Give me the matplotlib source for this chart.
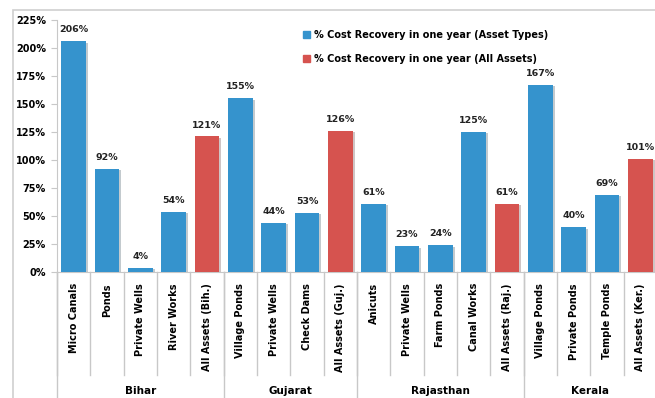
import matplotlib
matplotlib.use('Agg')
import matplotlib.pyplot as plt
import matplotlib.patheffects as pe
from matplotlib.patches import Patch, Rectangle

# data
states = ['Bihar', 'Gujarat', 'Rajasthan', 'Kerala']
categories = [
    ['Micro Canals', 'Ponds', 'Private Wells', 'River Works', 'All Assets (Bih.)'],
    ['Village Ponds', 'Private Wells', 'Check Dams', 'All Assets (Guj.)'],
    ['Anicuts', 'Private Wells', 'Farm Ponds', 'Canal Works', 'All Assets (Raj.)'],
    ['Village Ponds', 'Private Ponds', 'Temple Ponds', 'All Assets (Ker.)'],
]
values = [
    [206, 92, 4, 54, 121],
    [155, 44, 53, 126],
    [61, 23, 24, 125, 61],
    [167, 40, 69, 101],
]
legend_labels = ['% Cost Recovery in one year (Asset Types)',
                 '% Cost Recovery in one year (All Assets)']

blue = '#3593cd'
red = '#d6534f'
grid_col = '#c8c8c8'

plt.rcParams['font.family'] = ['DejaVu Sans']
plt.rcParams['font.weight'] = 'bold'

fig = plt.figure(figsize=(6.55, 3.98), dpi=100)
fig.patches.append(Rectangle((13 / 655, -0.1), 1.2, (388 / 398) + 0.1,
                             transform=fig.transFigure, fill=False,
                             edgecolor='#cfcfcf', linewidth=1.2))
ax = fig.add_axes([57 / 655, 126 / 398, 600 / 655, 252 / 398])

labels, vals, cols, bounds = [], [], [], [-0.5]
for cats, v in zip(categories, values):
    labels += cats
    vals += v
    cols += [blue] * (len(v) - 1) + [red]
    bounds.append(bounds[-1] + len(v))

x = list(range(len(vals)))
bars = ax.bar(x, vals, width=0.74, color=cols, zorder=3)
for b in bars:
    b.set_path_effects([pe.SimplePatchShadow(offset=(1.5, -1), alpha=0.25), pe.Normal()])

for xi, v in zip(x, vals):
    ax.annotate(f'{v}%', (xi, v), xytext=(0, 5), textcoords='offset points',
                ha='center', va='bottom', fontsize=6.8, fontweight='bold', color='#222222')

ax.set_xlim(-0.5, len(vals) - 0.5)
ax.set_ylim(0, 225)
ax.set_yticks(range(0, 226, 25))
ax.set_yticklabels([f'{t}%' for t in range(0, 226, 25)], fontsize=7, fontweight='bold')
ax.set_xticks(x)
ax.set_xticklabels(labels, rotation=90, fontsize=7, fontweight='bold', va='top')
ax.tick_params(axis='x', length=0, pad=8)
ax.tick_params(axis='y', length=4, color=grid_col, pad=4)

for s in ['top', 'right']:
    ax.spines[s].set_visible(False)
ax.spines['left'].set_color(grid_col)
ax.spines['bottom'].set_color(grid_col)

tr = ax.get_xaxis_transform()
for i in range(len(vals) + 1):
    ax.plot([i - 0.5, i - 0.5], [0, -103 / 252], color=grid_col, lw=1, transform=tr, clip_on=False)
for bnd in bounds:
    ax.plot([bnd, bnd], [0, -140 / 252], color=grid_col, lw=1, transform=tr, clip_on=False)
for i, st in enumerate(states):
    ax.text((bounds[i] + bounds[i + 1]) / 2, -119 / 252, st, transform=tr,
            ha='center', va='center', fontsize=7.5, fontweight='bold')

handles = [Patch(color=blue), Patch(color=red)]
ax.legend(handles, legend_labels, loc='upper left', bbox_to_anchor=(294 / 655, 1 - 21 / 398),
          bbox_transform=fig.transFigure, frameon=False,
          handlelength=0.7, handleheight=0.7, handletextpad=0.5, labelspacing=1.45,
          prop={'weight': 'bold', 'size': 7})

fig.savefig('out.png', dpi=100, facecolor='white')
